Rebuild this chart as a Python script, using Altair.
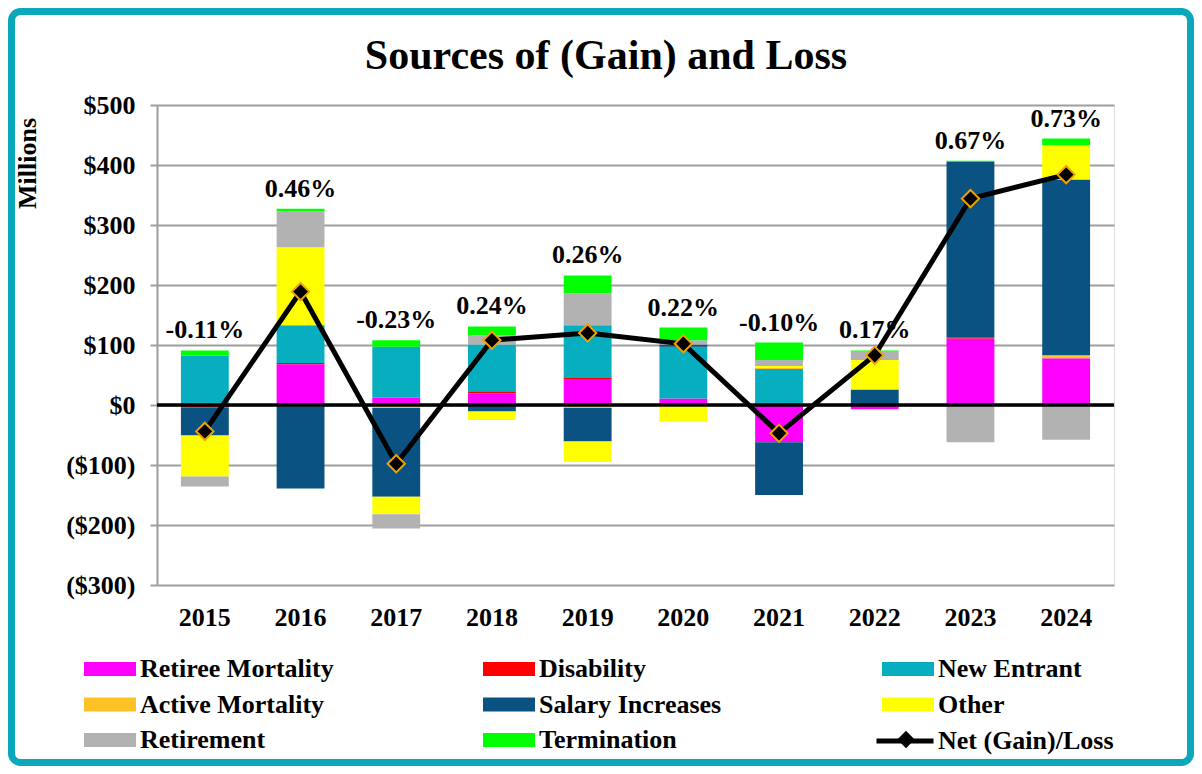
import altair as alt
import pandas as pd

years = ["2015", "2016", "2017", "2018", "2019", "2020", "2021", "2022", "2023", "2024"]
series_names = ["Retiree Mortality", "Disability", "New Entrant", "Active Mortality",
                "Salary Increases", "Other", "Retirement", "Termination"]
series_colors = ["#FF00FF", "#FF0000", "#06AEC0", "#FFC224",
                 "#0A5282", "#FFFF00", "#B2B2B2", "#00FF00"]

retiree_mortality = [0, 68, 12, 19, 42, 11, -62, -7, 111, 78]
disability = [-4, 2, 0, 4, 3, 0, 0, 0, 1, 0]
new_entrant = [82, 63, 85, 78, 88, 86, 60, 0, 0, 0]
active_mortality = [0, -2, -5, 0, -5, 0, 2, 0, 0, 5]
salary_increases = [-47, -137, -148, -11, -56, 4, -88, 26, 293, 293]
other = [-68, 130, -29, -14, -34, -28, 3, 49, 0, 57]
retirement = [-17, 60, -24, 15, 53, 7, 10, 15, -62, -58]
termination = [9, 4, 11, 15, 30, 21, 29, 1, 2, 11]
net_gain_loss = [-44, 189, -98, 108, 120, 102, -47, 83, 344, 384]
pct_labels = ["-0.11%", "0.46%", "-0.23%", "0.24%", "0.26%",
              "0.22%", "-0.10%", "0.17%", "0.67%", "0.73%"]
y_ticks = [-300, -200, -100, 0, 100, 200, 300, 400, 500]

FONT = "Liberation Serif"
TEAL = "#0AA8B8"
GRID = "#9E9E9E"
ORANGE = "#F2A200"

all_series = [retiree_mortality, disability, new_entrant, active_mortality,
              salary_increases, other, retirement, termination]
rows = []
for i, (name, vals) in enumerate(zip(series_names, all_series)):
    for y, v in zip(years, vals):
        rows.append({"year": y, "series": name, "idx": i, "value": v})
bars_df = pd.DataFrame(rows)

tops = bars_df[bars_df["value"] > 0].groupby("year")["value"].sum().reindex(years).fillna(0)
net_df = pd.DataFrame({
    "year": years,
    "value": net_gain_loss,
    "pct": pct_labels,
    "top": tops.values,
    "netname": ["Net (Gain)/Loss"] * len(years),
    "netname2": ["Net (Gain)/Loss "] * len(years),
})
zero_df = pd.DataFrame({"value": [0]})
frame_df = pd.DataFrame({"k": [0]})

x_enc = alt.X("year:N", sort=years, title=None,
              scale=alt.Scale(paddingInner=0.5, paddingOuter=0.25),
              axis=alt.Axis(labelAngle=0, domain=False, ticks=False, tickSize=0,
                            labelFont=FONT, labelFontSize=26, labelFontWeight="bold",
                            labelColor="black", labelBaseline="alphabetic",
                            labelPadding=40, grid=False))
y_scale = alt.Scale(domain=[-300, 500], nice=False, zero=False)
y_axis = alt.Axis(values=y_ticks, title="Millions", grid=True, gridColor=GRID, gridWidth=2,
                  domainColor=GRID, domainWidth=2, tickColor=GRID, tickWidth=2, tickSize=7,
                  labelFont=FONT, labelFontSize=26, labelFontWeight="bold", labelColor="black",
                  labelPadding=15, labelBaseline="middle",
                  labelExpr="datum.value < 0 ? '($' + format(-datum.value, ',') + ')' : '$' + format(datum.value, ',') + '\u2004'",
                  titleFont=FONT, titleFontSize=26, titleFontWeight="bold", titleColor="black",
                  titleX=-130, titleY=58, titleAngle=270, titleAlign="center",
                  titleBaseline="middle")


def y_enc(field):
    return alt.Y(field, type="quantitative", scale=y_scale, axis=y_axis, stack=None)


frame = alt.Chart(frame_df).mark_rect(
    fill="white", fillOpacity=0, stroke=TEAL, strokeWidth=7, cornerRadius=9
).encode(x=alt.value(-145.5), x2=alt.value(1033.5), y=alt.value(-93.5), y2=alt.value(657.5))

bars = alt.Chart(bars_df).mark_bar().encode(
    x=x_enc,
    y=alt.Y("value:Q", scale=y_scale, axis=y_axis, stack="zero"),
    color=alt.Color("series:N", scale=alt.Scale(domain=series_names, range=series_colors),
                    legend=alt.Legend(title=None, orient="none", legendX=-60, legendY=551,
                                      direction="horizontal",
                                      columns=3, columnPadding=149, rowPadding=9.5,
                                      gridAlign="all", padding=0,
                                      symbolType="M-2,-0.54H2V0.54H-2Z", symbolSize=676,
                                      symbolStrokeWidth=0, symbolOpacity=1,
                                      labelFont=FONT, labelFontSize=26, labelFontWeight="bold",
                                      labelColor="black", labelOffset=17, labelLimit=400)),
    order=alt.Order("idx:Q", sort="ascending"),
)

zero_line = alt.Chart(zero_df).mark_rule(color="black", strokeWidth=3.5).encode(
    y=y_enc("value")
)

line = alt.Chart(net_df).mark_line(strokeWidth=5).encode(
    x=x_enc,
    y=y_enc("value"),
    stroke=alt.Stroke("netname:N", scale=alt.Scale(range=["black"]),
                      legend=alt.Legend(title=None, orient="none", legendX=717, legendY=605,
                                        padding=0, symbolType="stroke", symbolSize=3249,
                                        symbolStrokeWidth=5, symbolStrokeColor="black",
                                        labelFont=FONT, labelFontSize=26, labelFontWeight="bold",
                                        labelColor="black", labelOffset=2, labelLimit=400)),
)

points = alt.Chart(net_df).mark_point(
    filled=True, fill="black", stroke=ORANGE, strokeWidth=2, size=300, opacity=1
).encode(
    x=x_enc,
    y=y_enc("value"),
    shape=alt.Shape("netname2:N", scale=alt.Scale(range=["diamond"]),
                    legend=alt.Legend(title=None, orient="none", legendX=739, legendY=624.5,
                                      padding=0, symbolSize=300, symbolFillColor="black",
                                      symbolStrokeColor=ORANGE, symbolStrokeWidth=2,
                                      labelOpacity=0, labelFontSize=1, labelLimit=1)),
)

labels = alt.Chart(net_df).mark_text(
    font=FONT, fontSize=26, fontWeight="bold", color="black", baseline="alphabetic", dy=-12
).encode(
    x=x_enc,
    y=y_enc("top"),
    text="pct:N",
)

chart = alt.layer(frame, bars, zero_line, line, points, labels).properties(
    width=957,
    height=480,
    autosize=alt.AutoSizeParams(type="none"),
    padding={"left": 149, "top": 97, "right": 80, "bottom": 181},
    background="white",
    title=alt.TitleParams("Sources of (Gain) and Loss", font=FONT, fontSize=42,
                          fontWeight="bold", color="black", anchor="middle",
                          frame="group", baseline="alphabetic", offset=-102.5, dx=-29.5),
).configure_view(stroke=GRID, strokeWidth=2).configure(font=FONT)

chart.save("out.html", embed_options={"renderer": "svg", "actions": False})
